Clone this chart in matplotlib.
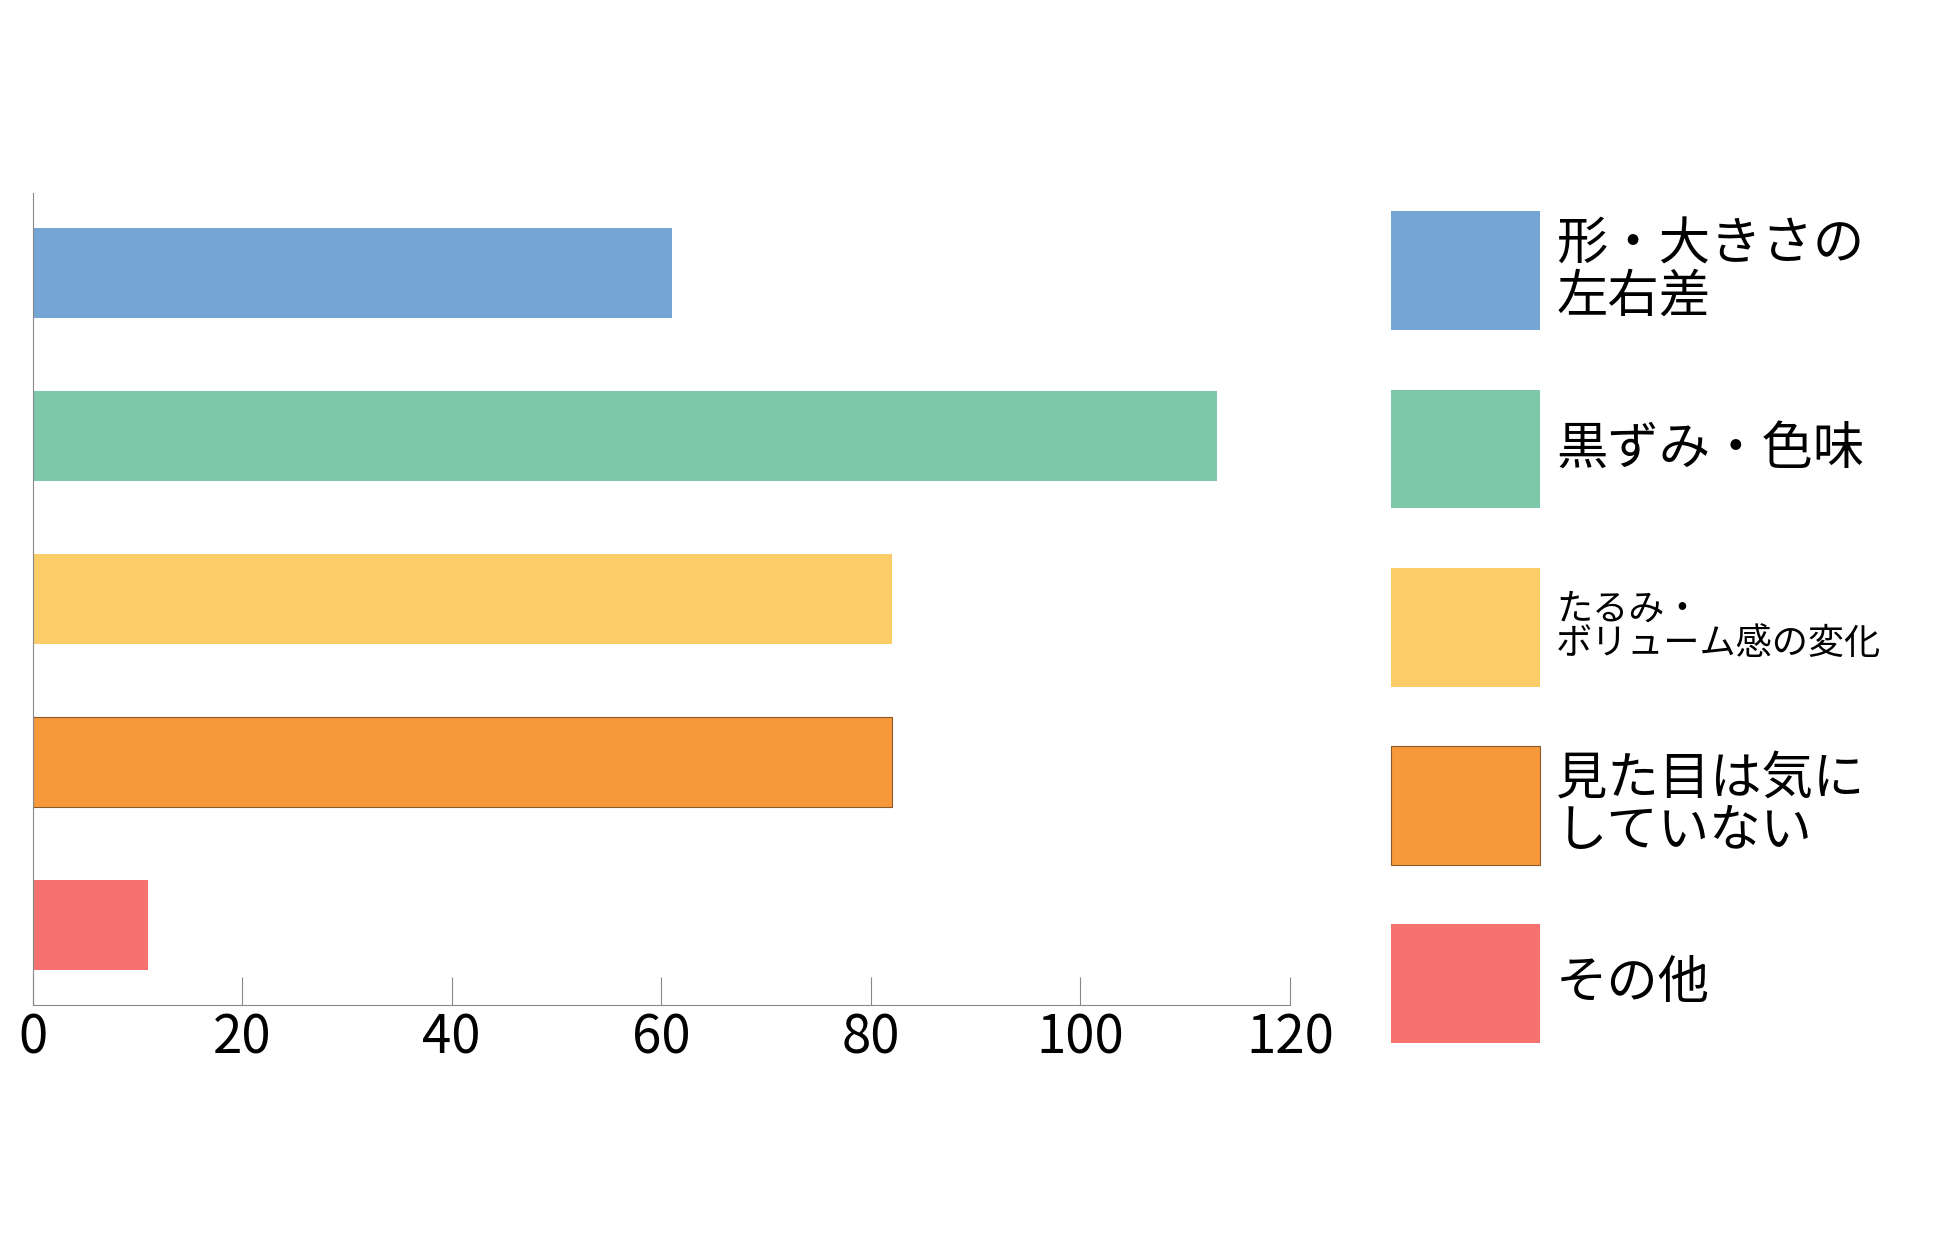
import matplotlib
matplotlib.use("Agg")
import matplotlib.pyplot as plt
from matplotlib.patches import Rectangle

plt.rcParams['font.family'] = ['Noto Sans CJK JP', 'DejaVu Sans']

categories = ["形・大きさの\n左右差", "黒ずみ・色味", "たるみ・\nボリューム感の変化", "見た目は気に\nしていない", "その他"]
values = [61, 113, 82, 82, 11]
colors = ["#74A5D4", "#7CC8A8", "#FBCD68", "#F7993A", "#F87171"]
edges = ["none", "none", "none", "#8a5a2a", "none"]
label_sizes = [37, 37, 26, 37, 37]
xticks = [0, 20, 40, 60, 80, 100, 120]

fig = plt.figure(figsize=(19.5, 12.48), dpi=100)
ax = fig.add_axes([0.0167, 0.195, 0.6448, 0.65])
y = list(range(len(values)))
ax.barh(y, values, height=0.555, color=colors, edgecolor=edges, linewidth=0.8)
ax.set_ylim(len(values) - 0.51, -0.49)
ax.set_xlim(0, 120)
ax.set_xticks(xticks)
ax.set_xticklabels([str(t) for t in xticks], fontsize=38)
ax.tick_params(axis='x', direction='in', length=20, color='#888888', pad=4)
ax.set_yticks([])
for s in ['top', 'right']:
    ax.spines[s].set_visible(False)
for s in ['left', 'bottom']:
    ax.spines[s].set_color('#888888')

x0, w, h = 1113/1560, 119/1560, 95/998
for i, (lab, c) in enumerate(zip(categories, colors)):
    top = (169 + i*142.5)/998
    fig.patches.append(Rectangle((x0, 1 - top - h), w, h, transform=fig.transFigure,
                                 facecolor=c, edgecolor=edges[i], linewidth=0.8))
    fig.text(1245/1560, 1 - top - h/2, lab, fontsize=label_sizes[i], va='center', ha='left',
             linespacing=0.95)

fig.savefig("out.png", dpi=100)
